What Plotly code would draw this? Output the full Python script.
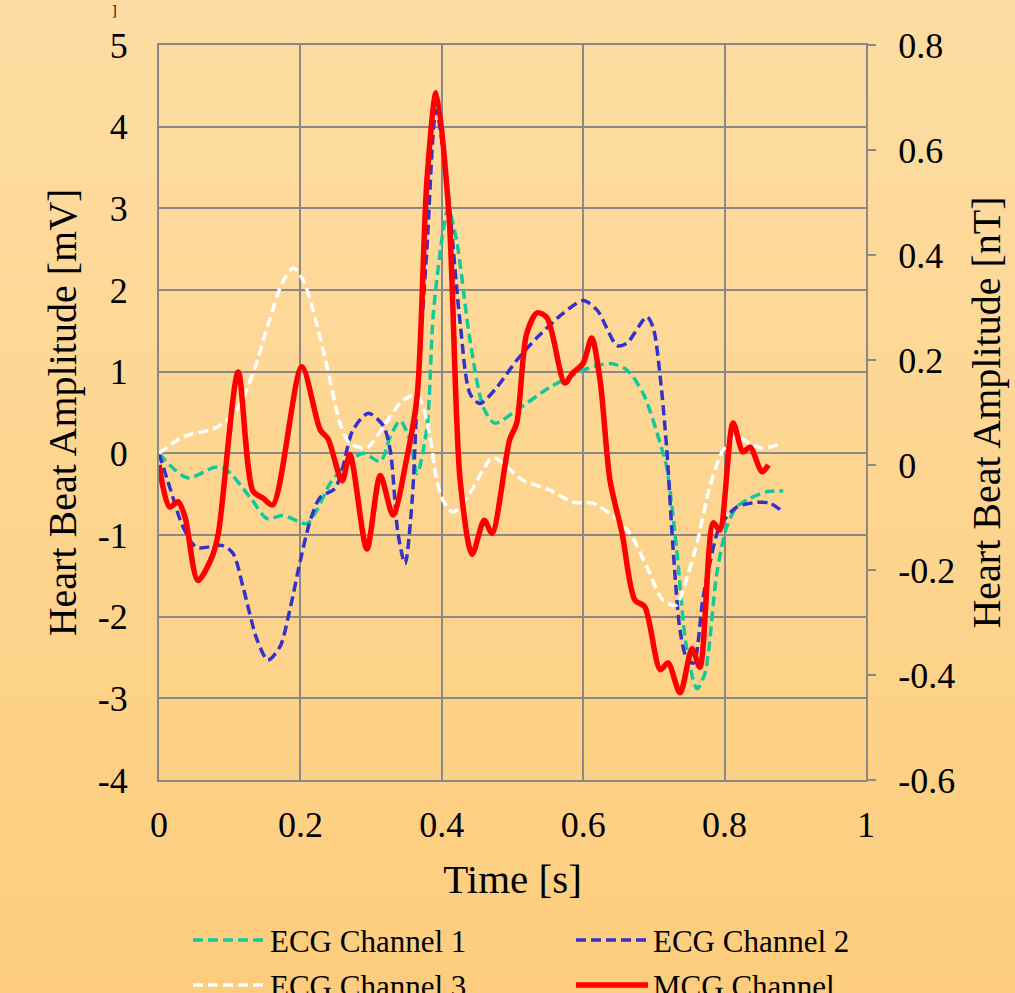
import plotly.graph_objects as go

# ---------------- data ----------------
t_ecg1 = [0, 0.04, 0.079, 0.095, 0.129, 0.153, 0.175, 0.209, 0.223, 0.242, 0.266, 0.289, 0.313, 0.327,
          0.341, 0.355, 0.365, 0.379, 0.388, 0.402, 0.409, 0.421, 0.44, 0.459, 0.475, 0.506, 0.553, 0.577,
          0.6, 0.638, 0.662, 0.685, 0.709, 0.718, 0.732, 0.746, 0.761, 0.772, 0.789, 0.803, 0.817, 0.836,
          0.86, 0.883]
v_ecg1 = [0, -0.3, -0.17, -0.2, -0.54, -0.8, -0.76, -0.86, -0.7, -0.37, -0.12, 0, -0.1, 0.2,
          0.4, 0.16, -0.25, 0.32, 1.71, 2.73, 3.0, 2.6, 1.38, 0.56, 0.37, 0.53, 0.81, 0.92,
          1.02, 1.1, 1.02, 0.73, 0.12, -0.17, -1.15, -2.37, -2.88, -2.7, -1.47, -0.9, -0.66, -0.55,
          -0.47, -0.46]

t_ecg2 = [0, 0.015, 0.034, 0.053, 0.09, 0.105, 0.119, 0.139, 0.154, 0.171, 0.185, 0.2, 0.214, 0.228,
          0.249, 0.26, 0.274, 0.296, 0.317, 0.327, 0.338, 0.348, 0.358, 0.365, 0.379, 0.392, 0.407,
          0.426, 0.44, 0.454, 0.478, 0.506, 0.535, 0.571, 0.6, 0.62, 0.648, 0.662, 0.69, 0.699, 0.709,
          0.718, 0.727, 0.737, 0.746, 0.756, 0.769, 0.779, 0.793, 0.817, 0.846, 0.864, 0.883]
v_ecg2 = [0, -0.41, -0.9, -1.15, -1.13, -1.23, -1.64, -2.29, -2.53, -2.37, -1.92, -1.31, -0.82, -0.54,
          -0.43, -0.17, 0.28, 0.49, 0.34, 0.04, -0.98, -1.35, -0.58, 0.65, 2.52, 4.2, 3.34,
          1.59, 0.73, 0.61, 0.81, 1.14, 1.42, 1.71, 1.87, 1.75, 1.32, 1.35, 1.67, 1.54, 0.93,
          0.07, -1.15, -2.17, -2.5, -2.57, -1.8, -1.35, -0.9, -0.66, -0.6, -0.61, -0.72]

t_ecg3 = [0, 0.034, 0.082, 0.11, 0.133, 0.153, 0.174, 0.19, 0.204, 0.218, 0.238, 0.256, 0.27, 0.294,
          0.317, 0.345, 0.365, 0.379, 0.393, 0.402, 0.416, 0.436, 0.458, 0.472, 0.515, 0.553, 0.586,
          0.614, 0.638, 0.666, 0.69, 0.713, 0.732, 0.741, 0.761, 0.779, 0.798, 0.817, 0.836, 0.854, 0.883]
v_ecg3 = [0, 0.2, 0.32, 0.53, 0.98, 1.54, 2.08, 2.27, 2.12, 1.75, 1.05, 0.37, 0.12, 0.07,
          0.32, 0.65, 0.71, 0.4, -0.33, -0.58, -0.72, -0.54, -0.21, -0.05, -0.33, -0.45, -0.6,
          -0.61, -0.74, -0.98, -1.39, -1.8, -1.86, -1.68, -1.1, -0.41, 0.04, 0.2, 0.12, 0.06, 0.13]

t_mcg = [0, 0.015, 0.027, 0.037, 0.055, 0.075, 0.084, 0.112, 0.133, 0.147, 0.161, 0.202, 0.228, 0.239,
         0.259, 0.27, 0.294, 0.313, 0.331, 0.35, 0.365, 0.379, 0.392, 0.41, 0.426, 0.443, 0.46, 0.471,
         0.496, 0.506, 0.52, 0.535, 0.549, 0.574, 0.585, 0.6, 0.612, 0.624, 0.638, 0.655, 0.673, 0.687,
         0.709, 0.72, 0.737, 0.754, 0.765, 0.784, 0.793, 0.812, 0.826, 0.836, 0.853, 0.862]
v_mcg = [0, -0.08, -0.07, -0.1, -0.22, -0.175, -0.13, 0.177, -0.05, -0.063, -0.076, 0.187, 0.067, 0.05,
         -0.03, 0.02, -0.16, -0.02, -0.095, 0.01, 0.13, 0.543, 0.709, 0.48, -0.03, -0.17, -0.105, -0.13,
         0.048, 0.08, 0.25, 0.29, 0.28, 0.156, 0.175, 0.194, 0.242, 0.16, -0.03, -0.13, -0.257, -0.27,
         -0.39, -0.377, -0.434, -0.35, -0.385, -0.11, -0.124, 0.08, 0.025, 0.034, -0.013, 0.0]

x_ticks = [0, 0.2, 0.4, 0.6, 0.8, 1]
x_labels = ["0", "0.2", "0.4", "0.6", "0.8", "1"]
y1_ticks = [5, 4, 3, 2, 1, 0, -1, -2, -3, -4]
y1_labels = ["5", "4", "3", "2", "1", "0", "-1", "-2", "-3", "-4"]
y2_ticks = [0.8, 0.6, 0.4, 0.2, 0, -0.2, -0.4, -0.6]
y2_labels = ["0.8", "0.6", "0.4", "0.2", "0", "-0.2", "-0.4", "-0.6"]

series_names = ["ECG Channel 1", "ECG Channel 2", "ECG Channel 3", "MCG Channel"]
series_colors = ["#12C99B", "#3333CC", "#FFFFFF", "#FF0000"]

FONT = "Liberation Serif, Times New Roman, serif"
GRID = "#898989"
DASH = "10px,5px"

fig = go.Figure()
fig.add_trace(go.Scatter(x=t_ecg1, y=v_ecg1, name=series_names[0], mode="lines",
                         line=dict(color=series_colors[0], width=3.5, dash=DASH, shape="spline", smoothing=0.8)))
fig.add_trace(go.Scatter(x=t_ecg2, y=v_ecg2, name=series_names[1], mode="lines",
                         line=dict(color=series_colors[1], width=3.5, dash=DASH, shape="spline", smoothing=0.8)))
fig.add_trace(go.Scatter(x=t_ecg3, y=v_ecg3, name=series_names[2], mode="lines",
                         line=dict(color=series_colors[2], width=3.5, dash=DASH, shape="spline", smoothing=0.8)))
fig.add_trace(go.Scatter(x=t_mcg, y=v_mcg, name=series_names[3], mode="lines", yaxis="y2",
                         line=dict(color=series_colors[3], width=5.5, shape="spline", smoothing=0.8)))

# layout geometry (pixels)
W, H = 1015, 993
L, R, T, B = 159, 149, 45, 213
pw, ph = W - L - R, H - T - B


def px_x(p):
    return (p - L) / pw


def px_y(p):
    return (T + ph - p) / ph


# background gradient bands
shapes = []
n = 60
top = (253, 221, 163)
bot = (253, 205, 125)
for i in range(n):
    f = i / (n - 1)
    c = tuple(round(top[k] + (bot[k] - top[k]) * f) for k in range(3))
    y0px = H * i / n
    y1px = H * (i + 1) / n + 1
    shapes.append(dict(type="rect", xref="paper", yref="paper", layer="below",
                       x0=px_x(0), x1=px_x(W), y0=px_y(y1px), y1=px_y(y0px),
                       line=dict(width=0), fillcolor="rgb(%d,%d,%d)" % c))

# manual two-column legend
annotations = []
leg_pos = [(193, 940), (576, 940), (193, 985), (576, 985)]
for i, (lx, ly) in enumerate(leg_pos):
    is_mcg = i == 3
    shapes.append(dict(type="line", xref="paper", yref="paper", layer="above",
                       x0=px_x(lx), x1=px_x(lx + 72), y0=px_y(ly), y1=px_y(ly),
                       line=dict(color=series_colors[i], width=5.5 if is_mcg else 3.5,
                                 dash="solid" if is_mcg else DASH)))
    annotations.append(dict(text=series_names[i], xref="paper", yref="paper",
                            x=px_x(lx + 75), y=px_y(ly + 1), xanchor="left", yanchor="middle",
                            showarrow=False, font=dict(size=31, family=FONT, color="black")))

annotations.append(dict(text="]", xref="paper", yref="paper", x=px_x(114), y=px_y(1),
                        xanchor="center", yanchor="top", showarrow=False,
                        font=dict(size=14, family=FONT, color="black")))

fig.update_layout(
    width=W, height=H,
    margin=dict(l=L, r=R, t=T, b=B, pad=0, autoexpand=False),
    paper_bgcolor="rgb(253,221,163)",
    plot_bgcolor="rgba(0,0,0,0)",
    font=dict(family=FONT, color="black", size=36),
    shapes=shapes,
    annotations=annotations,
    showlegend=False,
    xaxis=dict(range=[0, 1], tickvals=x_ticks, ticktext=x_labels, showgrid=True,
               gridcolor=GRID, gridwidth=2, showline=True, linecolor=GRID, linewidth=2,
               mirror=True, zeroline=False, ticks="", ticklabelstandoff=12,
               tickfont=dict(size=36, family=FONT),
               title=dict(text="Time [s]", font=dict(size=41, family=FONT), standoff=20)),
    yaxis=dict(range=[-4, 5], tickvals=y1_ticks, ticktext=y1_labels, showgrid=True,
               gridcolor=GRID, gridwidth=2, showline=True, linecolor=GRID, linewidth=2,
               zeroline=False, ticks="", ticklabelstandoff=22,
               tickfont=dict(size=36, family=FONT),
               title=dict(text="Heart Beat Amplitude [mV]", font=dict(size=40, family=FONT), standoff=9)),
    yaxis2=dict(range=[-0.6, 0.8], tickvals=y2_ticks, ticktext=y2_labels, overlaying="y",
                side="right", showgrid=False, zeroline=False, showline=True, linecolor=GRID,
                linewidth=2, ticks="outside", ticklen=8, tickwidth=2, tickcolor=GRID,
                ticklabelstandoff=15, tickfont=dict(size=36, family=FONT),
                title=dict(text="Heart Beat Amplitude [nT]", font=dict(size=40, family=FONT), standoff=18)),
)

fig.write_html("out.html")
